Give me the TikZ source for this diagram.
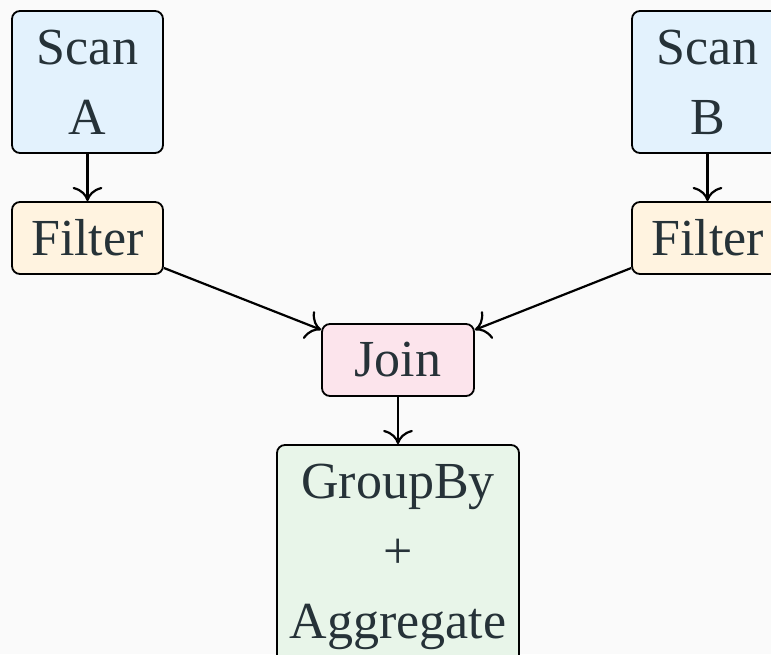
\documentclass[tikz,border=0pt]{standalone}
\usepackage{fontspec}
\setmainfont{Liberation Serif}
\usetikzlibrary{arrows.meta}
\definecolor{ink}{HTML}{263238}
\definecolor{bg}{HTML}{FAFAFA}
\definecolor{scanfill}{HTML}{E3F2FD}
\definecolor{filterfill}{HTML}{FFF3E0}
\definecolor{joinfill}{HTML}{FCE4EC}
\definecolor{aggfill}{HTML}{E8F5E9}
\begin{document}
\begin{tikzpicture}[x=1pt,y=-1pt,
  box/.style={draw=black, line width=1.8pt, rounded corners=8pt, text=ink,
    font=\fontsize{52}{70}\selectfont, align=center, inner sep=0pt},
  flow/.style={draw=black, line width=2.2pt, -{To[scale=2.2]}}]
  % page background and fixed frame
  \fill[bg] (0,0) rectangle (771,654);
  \useasboundingbox (0,0) rectangle (771,654);

  % operators
  \node[box, fill=scanfill, minimum width=151pt, minimum height=142pt] (scanA) at (87.5,82) {Scan\\A};
  \node[box, fill=scanfill, minimum width=151pt, minimum height=142pt] (scanB) at (707.5,82) {Scan\\B};
  \node[box, fill=filterfill, minimum width=151pt, minimum height=72pt] (filtA) at (87.5,238) {Filter};
  \node[box, fill=filterfill, minimum width=151pt, minimum height=72pt] (filtB) at (707.5,238) {Filter};
  \node[box, fill=joinfill, minimum width=152pt, minimum height=72pt] (join) at (398,360) {Join};
  \node[box, fill=aggfill, minimum width=242pt, minimum height=224pt] (agg) at (398,557) {GroupBy\\+\\Aggregate};

  % data flow
  \draw[flow] (scanA) -- (filtA);
  \draw[flow] (scanB) -- (filtB);
  \draw[flow] (filtA) -- (join);
  \draw[flow] (filtB) -- (join);
  \draw[flow] (join) -- (agg);
\end{tikzpicture}
\end{document}
